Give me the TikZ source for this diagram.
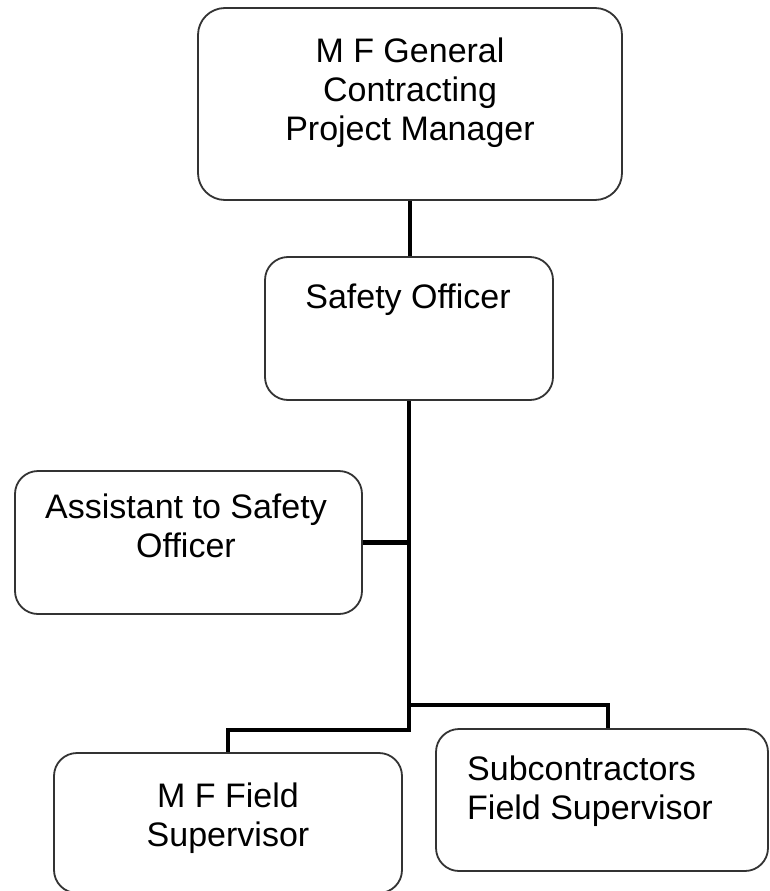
\documentclass[tikz,border=0pt]{standalone}
\usepackage{fontspec}
\setmainfont{Liberation Sans}
\begin{document}
\begin{tikzpicture}[x=1pt,y=-1pt,
  box/.style={draw=black!80, line width=1.8pt, rounded corners=23pt, fill=white, inner sep=0pt},
  lbl/.style={inner sep=0pt, anchor=base, font=\fontsize{34}{39}\selectfont, align=center},
  conn/.style={line width=4.5pt, line join=miter, draw=black}]
\useasboundingbox (0,0) rectangle (770,891);
% boxes
\node[box, rounded corners=27pt, minimum width=424pt, minimum height=192pt] (top) at (410,104) {};
\node[box, minimum width=288pt, minimum height=143pt] (safety) at (409,328.5) {};
\node[box, minimum width=347pt, minimum height=143pt] (asst) at (188.5,542.5) {};
\node[box, minimum width=348pt, minimum height=140pt] (mf) at (228,823) {};
\node[box, minimum width=332pt, minimum height=142pt] (sub) at (602,800) {};
% texts (base anchor = baseline of last line)
\node[lbl] (ttop) at (410,140) {M F General\\Contracting\\Project Manager};
\node[lbl] (tsafety) at (408,308) {Safety Officer};
\node[lbl] (tasst) at (186,557) {Assistant to Safety\\Officer};
\node[lbl] (tmf) at (228,846) {M F Field\\Supervisor};
\node[lbl, align=left, anchor=base west] (tsub) at (467,819) {Subcontractors\\Field Supervisor};
% connectors
\coordinate (j1) at (409,705);
\coordinate (j2) at (409,730);
\coordinate (sr) at (608,705);
\draw[conn] (top.south) -- (top.south |- safety.north);
\draw[conn] (safety.south) -- (j2) -- (j2 -| mf.north) -- (mf.north);
\draw[conn] (safety.south |- asst.east) -- (asst.east);
\draw[conn] (j1) -- (sr) -- (sr |- sub.north);
\end{tikzpicture}
\end{document}
